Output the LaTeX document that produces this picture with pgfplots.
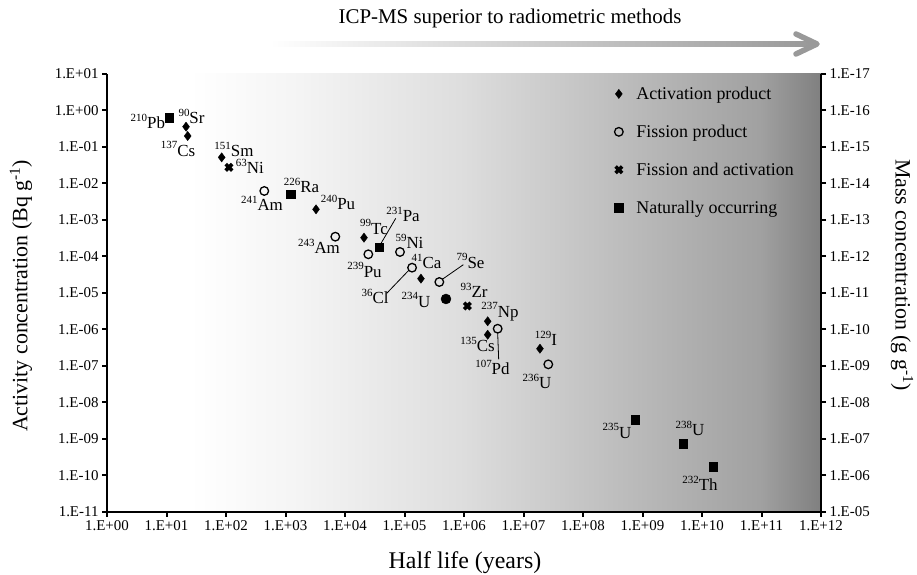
\documentclass[border=0pt]{standalone}
\usepackage{fontspec}
\setmainfont{Liberation Serif}
\usepackage{pgfplots}
\pgfplotsset{compat=1.18}
\usetikzlibrary{calc}
\newcommand{\iso}[2]{\raisebox{0.42em}{\fontsize{11}{11}\selectfont #1}#2}
\tikzset{lab/.style={font=\fontsize{17}{20}\selectfont, inner sep=0pt, anchor=center}}
\pgfplotsset{lim/.style={legend image code/.code={\draw[##1] plot coordinates {(0bp,0bp)}; \path[draw=none,fill=none] (-5bp,0bp) rectangle (15.5bp,0.1bp);}}}
\begin{document}
\begin{tikzpicture}
\begin{axis}[
  at={(0,0)}, anchor=south west,
  scale only axis, width=714bp, height=438bp,
  xmode=log, ymode=log,
  xmin=1, xmax=1e12, ymin=1e-11, ymax=10,
  axis x line*=bottom, axis y line*=left,
  axis line style={-, line width=2.4bp, black},
  xtick={1,10,100,1e3,1e4,1e5,1e6,1e7,1e8,1e9,1e10,1e11,1e12},
  xticklabels={1.E+00,1.E+01,1.E+02,1.E+03,1.E+04,1.E+05,1.E+06,1.E+07,1.E+08,1.E+09,1.E+10,1.E+11,1.E+12},
  ytick={1e-11,1e-10,1e-9,1e-8,1e-7,1e-6,1e-5,1e-4,1e-3,1e-2,1e-1,1,10},
  yticklabels={1.E-11,1.E-10,1.E-09,1.E-08,1.E-07,1.E-06,1.E-05,1.E-04,1.E-03,1.E-02,1.E-01,1.E+00,1.E+01},
  tick align=outside, major tick length=5bp,
  tick style={line width=2bp, black},
  minor tick length=0pt, minor tick style={draw=none},
  ticklabel style={font=\fontsize{15}{18}\selectfont},
  clip=false,
  set layers,
  legend style={draw=none, fill=none, at={(axis description cs:0.7054,0.98)}, anchor=north west,
    font=\fontsize{18}{21}\selectfont, row sep=20bp, legend cell align=left},
]
\begin{pgfonlayer}{axis background}
  \fill[white] (rel axis cs:0,0) rectangle (rel axis cs:0.117,1);
  \shade[left color=white, right color=black!4.3, draw=none] (rel axis cs:0.116,0) rectangle (rel axis cs:0.271,1);
  \shade[left color=black!4.3, right color=black!13, draw=none] (rel axis cs:0.27,0) rectangle (rel axis cs:0.495,1);
  \shade[left color=black!13, right color=black!27.5, draw=none] (rel axis cs:0.494,0) rectangle (rel axis cs:0.747,1);
  \shade[left color=black!27.5, right color=black!37, draw=none] (rel axis cs:0.746,0) rectangle (rel axis cs:0.916,1);
  \shade[left color=black!37, right color=black!50, draw=none] (rel axis cs:0.915,0) rectangle (rel axis cs:1,1);
\end{pgfonlayer}

% Activation product
\addplot[only marks, mark=diamond*, mark size=4.6bp, black, lim] coordinates {
 (21.3,0.36) (22.7,0.20) (84.6,0.052) (3258,0.00196) (20850,3.28e-4)
 (1.89e5,2.47e-5) (2.5e6,1.68e-6) (2.5e6,7.2e-7) (1.89e7,2.98e-7)};
\addlegendentry{Activation product}
% Fission product
\addplot[only marks, mark=o, mark size=4.3bp, black, mark options={line width=1.3bp}, lim] coordinates {
 (440,0.00624) (6870,3.49e-4) (24660,1.15e-4) (84000,1.33e-4) (1.34e5,4.94e-5)
 (3.85e5,2.0e-5) (3.68e6,1.05e-6) (2.61e7,1.11e-7)};
\addlegendentry{Fission product}
% Fission and activation
\addplot[only marks, mark=x, mark size=4.6bp, black, mark options={line width=3.6bp}, lim] coordinates {
 (112,0.0277) (1.14e6,4.4e-6)};
\addlegendentry{Fission and activation}
% Naturally occurring
\addplot[only marks, mark=square*, mark size=4.3bp, black, lim] coordinates {
 (11.1,0.635) (1237,0.00505) (37750,1.78e-4) (7.48e8,3.39e-9) (4.86e9,7.43e-10) (1.55e10,1.71e-10)};
\addlegendentry{Naturally occurring}
% 234U
\addplot[only marks, mark=*, mark size=5bp, black, forget plot] coordinates {(4.98e5,6.85e-6)};

% leader lines
\draw[line width=0.8bp] ([shift={(1.7bp,4bp)}]axis cs:37750,1.78e-4) -- ([shift={(16.4bp,29bp)}]axis cs:37750,1.78e-4);
\draw[line width=0.8bp] ([shift={(-3bp,-2.3bp)}]axis cs:1.34e5,4.94e-5) -- ([shift={(-25.3bp,-25.6bp)}]axis cs:1.34e5,4.94e-5);
\draw[line width=0.8bp] ([shift={(3.4bp,3bp)}]axis cs:3.85e5,2.0e-5) -- ([shift={(24bp,17.3bp)}]axis cs:3.85e5,2.0e-5);
\draw[line width=0.8bp] ([shift={(0bp,-4bp)}]axis cs:3.68e6,1.05e-6) -- ([shift={(1bp,-30.6bp)}]axis cs:3.68e6,1.05e-6);

% labels
\node[lab] at ([shift={(-21.3bp,-4bp)}]axis cs:11.1,0.635) {\iso{210}{Pb}};
\node[lab] at ([shift={(5.5bp,10bp)}]axis cs:21.3,0.36) {\iso{90}{Sr}};
\node[lab] at ([shift={(-9.7bp,-13bp)}]axis cs:22.7,0.20) {\iso{137}{Cs}};
\node[lab] at ([shift={(12.3bp,8.3bp)}]axis cs:84.6,0.052) {\iso{151}{Sm}};
\node[lab] at ([shift={(21bp,0.6bp)}]axis cs:112,0.0277) {\iso{63}{Ni}};
\node[lab] at ([shift={(-2.3bp,-12bp)}]axis cs:440,0.00624) {\iso{241}{Am}};
\node[lab] at ([shift={(10.5bp,9.3bp)}]axis cs:1237,0.00505) {\iso{226}{Ra}};
\node[lab] at ([shift={(22bp,6.6bp)}]axis cs:3258,0.00196) {\iso{240}{Pu}};
\node[lab] at ([shift={(23.7bp,33.3bp)}]axis cs:37750,1.78e-4) {\iso{231}{Pa}};
\node[lab] at ([shift={(10bp,10.7bp)}]axis cs:20850,3.28e-4) {\iso{99}{Tc}};
\node[lab] at ([shift={(-16.3bp,-10bp)}]axis cs:6870,3.49e-4) {\iso{243}{Am}};
\node[lab] at ([shift={(9.5bp,10.3bp)}]axis cs:84000,1.33e-4) {\iso{59}{Ni}};
\node[lab] at ([shift={(-3.8bp,-15.7bp)}]axis cs:24660,1.15e-4) {\iso{239}{Pu}};
\node[lab] at ([shift={(5.5bp,17bp)}]axis cs:1.89e5,2.47e-5) {\iso{41}{Ca}};
\node[lab] at ([shift={(-37bp,-29bp)}]axis cs:1.34e5,4.94e-5) {\iso{36}{Cl}};
\node[lab] at ([shift={(-30bp,-1bp)}]axis cs:4.98e5,6.85e-6) {\iso{234}{U}};
\node[lab] at ([shift={(31.2bp,21bp)}]axis cs:3.85e5,2.0e-5) {\iso{79}{Se}};
\node[lab] at ([shift={(6.7bp,15.3bp)}]axis cs:1.14e6,4.4e-6) {\iso{93}{Zr}};
\node[lab] at ([shift={(12.3bp,9.6bp)}]axis cs:2.5e6,1.68e-6) {\iso{237}{Np}};
\node[lab] at ([shift={(-10.2bp,-9.6bp)}]axis cs:2.5e6,7.2e-7) {\iso{135}{Cs}};
\node[lab] at ([shift={(-5.2bp,-38.6bp)}]axis cs:3.68e6,1.05e-6) {\iso{107}{Pd}};
\node[lab] at ([shift={(6bp,10.4bp)}]axis cs:1.89e7,2.98e-7) {\iso{129}{I}};
\node[lab] at ([shift={(-11.3bp,-16.7bp)}]axis cs:2.61e7,1.11e-7) {\iso{236}{U}};
\node[lab] at ([shift={(-18bp,-11.3bp)}]axis cs:7.48e8,3.39e-9) {\iso{235}{U}};
\node[lab] at ([shift={(6.7bp,15.7bp)}]axis cs:4.86e9,7.43e-10) {\iso{238}{U}};
\node[lab] at ([shift={(-13.3bp,-16bp)}]axis cs:1.55e10,1.71e-10) {\iso{232}{Th}};
\end{axis}

\begin{axis}[
  at={(0,0)}, anchor=south west,
  scale only axis, width=714bp, height=438bp,
  ymode=log, ymin=1e-17, ymax=1e-5, y dir=reverse,
  xmin=0, xmax=1, hide x axis,
  axis y line*=right,
  axis line style={-, line width=2.4bp, black},
  ytick={1e-17,1e-16,1e-15,1e-14,1e-13,1e-12,1e-11,1e-10,1e-9,1e-8,1e-7,1e-6,1e-5},
  yticklabels={1.E-17,1.E-16,1.E-15,1.E-14,1.E-13,1.E-12,1.E-11,1.E-10,1.E-09,1.E-08,1.E-07,1.E-06,1.E-05},
  tick align=outside, major tick length=5bp,
  tick style={line width=2bp, black},
  minor tick length=0pt, minor tick style={draw=none},
  ticklabel style={font=\fontsize{15}{18}\selectfont},
]
\addplot[draw=none, forget plot] coordinates {(0.5,1e-10)};
\end{axis}

% axis titles
\node[font=\fontsize{24}{28}\selectfont] at (358bp,-51bp) {Half life (years)};
\node[font=\fontsize{22}{26}\selectfont, rotate=90] at (-86bp,216bp) {Activity concentration (Bq g\textsuperscript{-1})};
\node[font=\fontsize{22}{26}\selectfont, rotate=-90] at (795bp,237bp) {Mass concentration (g g\textsuperscript{-1})};

% top arrow and caption
\node[font=\fontsize{21}{25}\selectfont] at (403bp,494bp) {ICP-MS superior to radiometric methods};
\shade[left color=white, right color=black!40] (163bp,465.5bp) rectangle (706bp,470.5bp);
\draw[line width=5.5bp, black!40, line cap=round, line join=round] (689bp,478bp) -- (710bp,468bp) -- (689bp,458bp);

\pgfresetboundingbox
\path[use as bounding box] (-107bp,-63bp) rectangle (810bp,512bp);
\end{tikzpicture}
\end{document}
